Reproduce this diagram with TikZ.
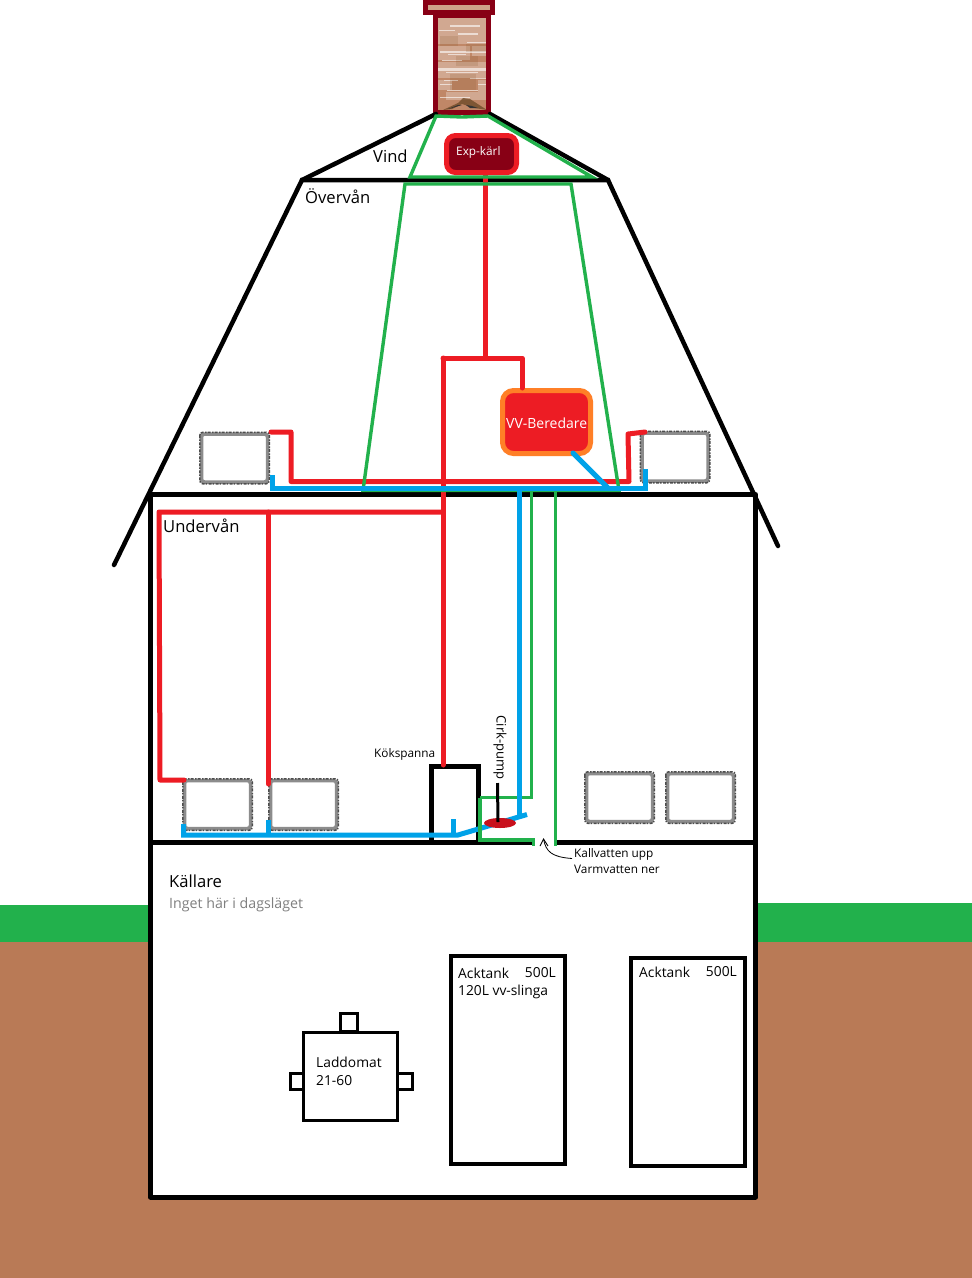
\documentclass[tikz,border=0pt]{standalone}
\usepackage{fontspec}
\usetikzlibrary{shapes.geometric}
\setmainfont{Open Sans}
\definecolor{soil}{HTML}{B97A56}
\definecolor{grass}{HTML}{22B14C}
\definecolor{hot}{HTML}{ED1C24}
\definecolor{cold}{HTML}{00A2E8}
\definecolor{brick}{HTML}{880015}
\definecolor{tankorange}{HTML}{FF7F27}
\definecolor{pumpred}{HTML}{C8101C}
\definecolor{note}{HTML}{7F7F7F}
\tikzset{
  wall/.style={draw=black,line width=5pt,line cap=round,line join=round},
  roofline/.style={draw=black,line width=4.5pt,line cap=round,line join=miter},
  redpipe/.style={draw=hot,line width=5pt,line join=round,line cap=round},
  bluepipe/.style={draw=cold,line width=5pt,line join=miter,line cap=butt},
  greenpipe/.style={draw=grass,line width=3.4pt,line join=miter,line cap=butt},
  radiator/.style={draw=black!45,line width=3.5pt,rounded corners=3pt,
    minimum width=66pt,minimum height=48pt,inner sep=0pt,fill=white},
  radiatorgrain/.style={draw=black!70,line width=1.5pt,rounded corners=3pt,
    dash pattern=on 3pt off 1pt on 1.5pt off 1.5pt},
  housebox/.style={draw=black,line width=4pt,inner sep=0pt,fill=white},
  smallbox/.style={draw=black,line width=3pt,inner sep=0pt,fill=white},
  txt/.style={inner sep=0pt,anchor=west,text=black},
  bigtxt/.style={txt,font=\fontsize{16.6}{19}\selectfont},
  midtxt/.style={txt,font=\fontsize{14.2}{17}\selectfont},
  smalltxt/.style={txt,font=\fontsize{11.8}{14}\selectfont},
  tanktxt/.style={txt,font=\fontsize{13.8}{16}\selectfont},
  softstreak/.style={fill=white,opacity=0.28,draw=none},
  streak/.style={fill=white,opacity=0.6,draw=none},
  darkstreak/.style={fill=brown!70!black,opacity=0.18,draw=none},
}
\begin{document}
\begin{tikzpicture}[x=1pt,y=-1pt]
\useasboundingbox (0,0) rectangle (972,1278);
\fill[white] (0,0) rectangle (972,1278);

% Ground and lawn on both sides of the house
\fill[soil] (0,942) rectangle (972,1278);
\fill[grass] (0,905) rectangle (150,942);
\fill[grass] (756,903) rectangle (972,942);
\fill[white] (150,842) rectangle (756,1197);

% Chimney with a brick-like surface
\fill[soil!90!white] (436,15) rectangle (489,112);
\foreach \xa/\ya/\xb/\yb in {
  438/17/486/44, 438/46/470/60, 472/46/486/56, 438/62/486/78, 438/80/452/90,
  478/80/486/92, 446/92/486/100}
  \fill[softstreak] (\xa,\ya) rectangle (\xb,\yb);
\foreach \xa/\ya/\xb/\yb in {
  450/25/480/27, 458/33/478/35, 439/30/455/31, 440/51/486/53, 448/54/466/55,
  442/60/462/61, 467/42/486/43, 438/68/486/71, 446/72/478/73, 444/80/458/81,
  470/78/486/79, 440/84/452/85, 478/84/486/85, 447/90/478/91, 440/97/470/98}
  \fill[streak] (\xa,\ya) rectangle (\xb,\yb);
\foreach \xa/\ya/\xb/\yb in {
  456/56/478/66, 450/74/476/90, 466/44/486/52, 440/36/458/46}
  \fill[darkstreak] (\xa,\ya) rectangle (\xb,\yb);
\fill[brown!55!black,opacity=0.75] (443,110) -- (458,103) -- (463,98) -- (470,99) -- (487,110) -- (475,108) -- (462,104) -- (452,109) -- cycle;
\fill[black!80] (448,109) -- (458,105) -- (462,105) -- (452,108) -- cycle;
\fill[black!80] (466,105) -- (472,106) -- (478,108) -- (470,108) -- cycle;
\draw[brick,line width=5pt] (435.5,15.5) rectangle (488.5,112);
\fill[soil!70!white] (426,3) rectangle (492,12);
\draw[brick,line width=5pt] (425.5,2.5) rectangle (492.5,12);

% Roof outline and attic floor
\draw[roofline] (114,565) -- (302,180) -- (608,180) -- (778,546);
\draw[roofline] (302,180) -- (436,114);
\draw[roofline] (490,114) -- (608,180);

% House walls and the floor between the ground floor and the cellar
\draw[wall] (150.5,494.5) rectangle (755.5,1197);
\draw[wall,line cap=butt] (150,842.5) -- (533,842.5);
\draw[wall,line cap=butt] (556,842.5) -- (757,842.5);

% Radiators
\foreach \nm/\cx/\cy in {ra/234.5/458, rb/675/457, rc/217.5/804.5, rd/303.5/804.5, re/619.5/797.5, rf/700.5/797.5}{
  \node[radiator] (\nm) at (\cx,\cy) {};
  \draw[radiatorgrain] (\nm.north west) rectangle (\nm.south east);
}

% Stove, tanks and loading unit
\node[housebox,line width=5pt,minimum width=47pt,minimum height=76pt] (stove) at (454.5,804) {};
\node[housebox,minimum width=114pt,minimum height=208pt] (tanka) at (508,1060) {};
\node[housebox,minimum width=114pt,minimum height=208pt] (tankb) at (688,1062) {};
\node[smallbox,minimum width=17pt,minimum height=18pt] (portt) at (349,1022) {};
\node[smallbox,minimum width=14pt,minimum height=16pt] (portl) at (297,1081) {};
\node[smallbox,minimum width=15pt,minimum height=16pt] (portr) at (404.5,1081) {};
\node[smallbox,minimum width=94pt,minimum height=88pt] (laddomat) at (350,1076) {};

% Expansion vessel and hot water heater
\node[draw=hot,fill=brick,line width=5pt,rounded corners=9pt,minimum width=70pt,
  minimum height=37pt,inner sep=0pt] (exp) at (481.5,154) {};
\node[draw=tankorange,fill=hot,line width=5pt,rounded corners=11pt,minimum width=88pt,
  minimum height=63pt,inner sep=0pt] (vv) at (546.5,422) {};

% Hot flow pipes
\coordinate (tee) at (485,358);
\coordinate (riser) at (443,358);
\draw[redpipe] (485,175) -- (tee);
\draw[redpipe] (riser) -- (522,358) -- (522,388);
\draw[redpipe] (riser) -- (443,765);
\draw[redpipe] (443,512) -- (159,512) -- (160,780) -- (184,780);
\draw[redpipe] (268.5,512) -- (268.5,784);
\draw[redpipe] (271,432) -- (291,432) -- (291,481.5) -- (629,481.5) -- (628,434) -- (645,432);

% Cold and hot water supply, drawn in green
\coordinate (pumploop) at (480,797.5);
\draw[greenpipe] (436,116) -- (462,117) -- (488,116) -- (592,177) -- (410,177) -- cycle;
\draw[greenpipe] (363,490.5) -- (405,184) -- (571,184) -- (619,490.5) -- cycle;
\draw[greenpipe] (531.5,490) -- (531.5,797.5) -- (pumploop);
\draw[greenpipe] (555.5,490) -- (555.5,846);

% Return pipes
\draw[bluepipe] (272.5,475) -- (272.5,488) -- (645.5,488) -- (645.5,469);
\draw[bluepipe,line cap=round] (573,453) -- (592,472) -- (608,488);
\draw[bluepipe] (519.5,490) -- (519.5,815);
\draw[bluepipe] (183.5,824) -- (183.5,835) -- (458,835) -- (527,814.5);
\draw[bluepipe] (268.5,835) -- (268.5,820);
\draw[bluepipe] (453,835) -- (453,819);

% Pipe loop around the stove, circulation pump and its pointer
\draw[greenpipe] (pumploop) -- (480,840) -- (533.5,840) -- (533.5,846);
\node[ellipse,fill=pumpred,minimum width=32pt,minimum height=10pt,inner sep=0pt] (pump) at (500,823) {};
\draw[draw=black,line width=3pt] (497.5,783) -- (498,822);

% Arrow at the opening in the floor
\coordinate (pipegap) at (543.5,839);
\draw[black,line width=0.8pt] (572,858.5) .. controls (552,857) and (546,852) .. (pipegap);
\draw[black,line width=0.9pt] (540,846) -- (pipegap) -- (548,846);

% Labels
\node[bigtxt] (vind) at (373,156) {Vind};
\node[bigtxt] (overvan) at (305,196.5) {Övervån};
\node[bigtxt] (undervan) at (163,526) {Undervån};
\node[bigtxt] (kallare) at (169,881) {Källare};
\node[midtxt,text=note] (inget) at (169,904.5) {Inget här i dagsläget};
\node[smalltxt,text=white] (explabel) at (456,152) {Exp-kärl};
\node[txt,text=white,font=\fontsize{14}{17}\selectfont] (vvlabel) at (506,423.5) {VV-Beredare};
\node[smalltxt] (kok) at (374,754) {Kökspanna};
\node[txt,anchor=center,rotate=-90,font=\fontsize{13}{15}\selectfont] (cirk) at (500,747.5) {Cirk-pump};
\node[smalltxt] (kall) at (574,854) {Kallvatten upp};
\node[smalltxt] (varm) at (574,869) {Varmvatten ner};
\node[tanktxt] (akta) at (458,973) {Acktank};
\node[tanktxt,anchor=east] (aktav) at (556,973) {500L};
\node[tanktxt] (slinga) at (458,992) {120L vv-slinga};
\node[tanktxt] (aktb) at (639,972) {Acktank};
\node[tanktxt,anchor=east] (aktbv) at (737,972) {500L};
\node[tanktxt] (ladd) at (316,1062) {Laddomat};
\node[tanktxt] (laddnr) at (316,1081) {21-60};
\end{tikzpicture}
\end{document}
